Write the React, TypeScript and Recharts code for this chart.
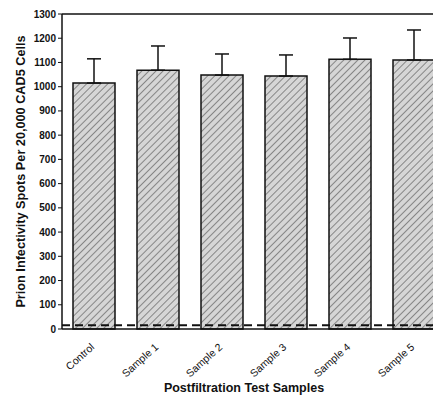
import React from 'react';
import { BarChart, Bar, XAxis, YAxis, ErrorBar, ReferenceLine, Label } from 'recharts';

const categories = ['Control', 'Sample 1', 'Sample 2', 'Sample 3', 'Sample 4', 'Sample 5'];
const meanSpots = [1015, 1068, 1048, 1044, 1113, 1110];
const errorUp = [100, 100, 87, 87, 88, 124];
const yTicks = [0, 100, 200, 300, 400, 500, 600, 700, 800, 900, 1000, 1100, 1200, 1300];
const backgroundLevel = 15;

const data = categories.map((name, i) => ({
  name,
  value: meanSpots[i],
  err: [0, errorUp[i]],
}));

const FONT = '"Liberation Sans", Arial, sans-serif';

const XTick = (props: any) => {
  const { x, y, payload } = props;
  return (
    <g transform={`translate(${x + 1},${y + 11})`}>
      <text
        x={0}
        y={0}
        textAnchor="end"
        transform="rotate(-42)"
        fontFamily={FONT}
        fontSize={10.5}
        fill="#111"
      >
        {payload.value}
      </text>
    </g>
  );
};

export default function App() {
  return (
    <div style={{ position: 'absolute', left: 0, top: 0, width: 433, height: 396, overflow: 'hidden', background: '#fff' }}>
      <BarChart
        width={446}
        height={396}
        data={data}
        margin={{ top: 14, right: 0, bottom: 0, left: 0 }}
        barSize={42}
      >
        <defs>
          <pattern id="hatch" width="5" height="5" patternUnits="userSpaceOnUse" patternTransform="rotate(45)">
            <rect width="5" height="5" fill="#d6d6d6" />
            <line x1="0" y1="0" x2="0" y2="5" stroke="#505050" strokeWidth="1.2" />
          </pattern>
        </defs>
        <XAxis
          dataKey="name"
          tick={<XTick />}
          tickLine={false}
          axisLine={{ stroke: '#111', strokeWidth: 1.5 }}
          height={67}
          interval={0}
        >
          <Label
            value="Postfiltration Test Samples"
            position="insideBottom"
            offset={4}
            dx={-10}
            style={{ fontFamily: FONT, fontSize: 12.5, fontWeight: 'bold', fill: '#111' }}
          />
        </XAxis>
        <YAxis
          domain={[0, 1300]}
          ticks={yTicks}
          width={62}
          tickSize={4}
          tickLine={{ stroke: '#111' }}
          axisLine={{ stroke: '#111', strokeWidth: 1.5 }}
          tick={{ fontFamily: FONT, fontSize: 10, fontWeight: 'bold', fill: '#111' }}
          interval={0}
        >
          <Label
            value="Prion Infectivity Spots Per 20,000 CAD5 Cells"
            angle={-90}
            position="insideLeft"
            offset={20}
            style={{ fontFamily: FONT, fontSize: 12.7, fontWeight: 'bold', fill: '#111', textAnchor: 'middle' }}
          />
        </YAxis>
        <Bar dataKey="value" fill="url(#hatch)" stroke="#111" strokeWidth={1.5} isAnimationActive={false}>
          <ErrorBar dataKey="err" width={7} stroke="#111" strokeWidth={1.5} direction="y" />
        </Bar>
        <ReferenceLine y={1300} stroke="#111" strokeWidth={1.5} />
        <ReferenceLine y={backgroundLevel} stroke="#111" strokeWidth={2} strokeDasharray="8 5" />
      </BarChart>
    </div>
  );
}
